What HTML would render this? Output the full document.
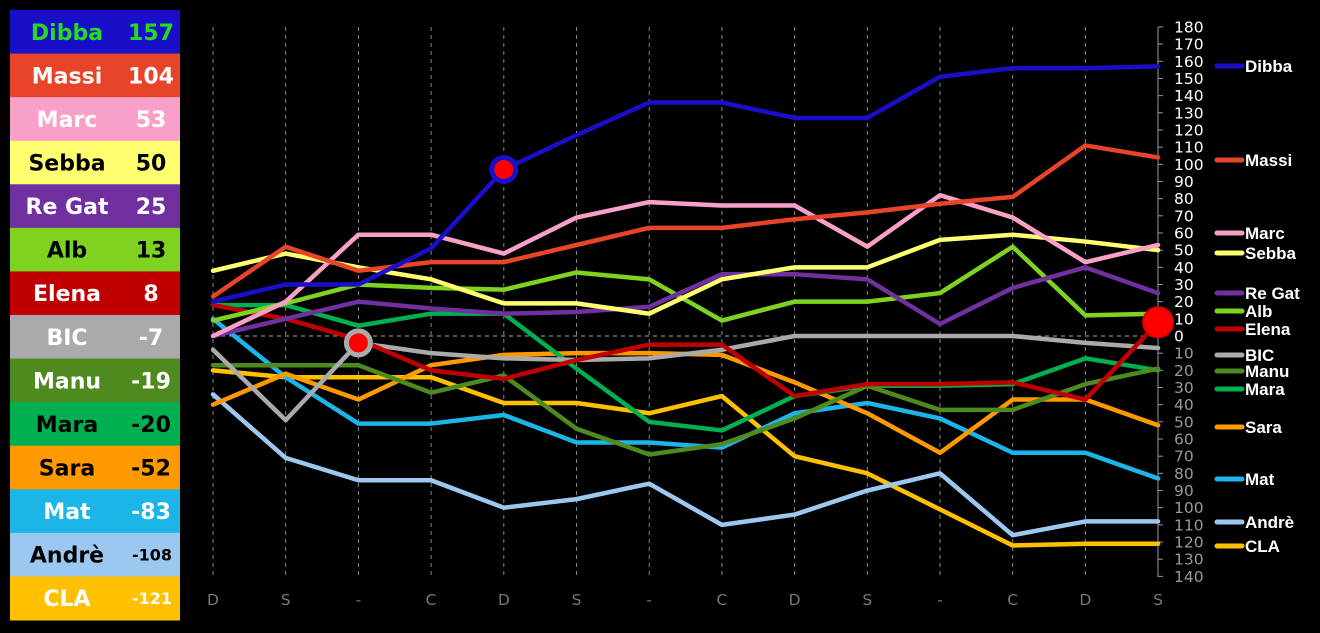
<!DOCTYPE html>
<html><head><meta charset="utf-8"><style>
body{margin:0;background:#000;width:1320px;height:633px;overflow:hidden}
svg{display:block}
.l{font-family:"DejaVu Sans",sans-serif;font-weight:bold;font-size:22px}
.ax{font-family:"DejaVu Sans",sans-serif;font-size:15.5px}
.lg{font-family:"Liberation Sans",sans-serif;font-weight:bold;font-size:17px;fill:#fff}
</style></head><body>
<svg width="1320" height="633" xmlns="http://www.w3.org/2000/svg" id="s">
<rect width="1320" height="633" fill="#000"/>
<g id="panel"></g>
<g id="grid"></g>
<g id="series" fill="none" stroke-width="4.5" stroke-linejoin="round" stroke-linecap="round"></g>
<g id="rleg"></g>
</svg>
<script>
const NS="http://www.w3.org/2000/svg";
function el(t,a,p,txt){const e=document.createElementNS(NS,t);for(const k in a)e.setAttribute(k,a[k]);if(txt!==undefined)e.textContent=txt;document.getElementById(p).appendChild(e);return e;}
const X=i=>213+i*72.7, Y=v=>336-v*1.717;
const rows=[["Dibba","157","#1a0fc8","#22dd22"],["Massi","104","#e8442a","#fff"],["Marc","53","#f9a0c8","#fff"],["Sebba","50","#ffff70","#000"],["Re Gat","25","#7030a0","#fff"],["Alb","13","#7ed321","#000"],["Elena","8","#c00000","#fff"],["BIC","-7","#aaaaaa","#fff"],["Manu","-19","#4e8a1e","#fff"],["Mara","-20","#00b050","#000"],["Sara","-52","#ff9900","#000"],["Mat","-83","#1cb5e8","#fff"],["Andrè","-108","#9cc8f0","#000"],["CLA","-121","#ffc000","#fff"]];
const rh=610/14;
rows.forEach((r,i)=>{const y=10+i*rh;el("rect",{x:10,y:y,width:170,height:rh+0.5,fill:r[2]},"panel");
el("text",{x:67,y:y+rh/2+8,"text-anchor":"middle",class:"l",fill:r[3]},"panel",r[0]);
const big=r[1].length>3;
el("text",{x:big?152:151,y:y+rh/2+(big?6:8),"text-anchor":"middle",class:"l",fill:r[3],style:big?"font-size:16px":""},"panel",r[1]);});
const lab=["D","S","-","C","D","S","-","C","D","S","-","C","D","S"];
for(let i=0;i<14;i++){if(i<13)el("line",{x1:X(i),y1:27,x2:X(i),y2:577,stroke:"#888","stroke-dasharray":"4,4","stroke-width":1},"grid");
el("text",{x:X(i),y:605,"text-anchor":"middle",class:"ax",fill:"#777"},"grid",lab[i]);}
el("line",{x1:213,y1:336,x2:1158,y2:336,stroke:"#aaa","stroke-dasharray":"4,4","stroke-width":1},"grid");
el("line",{x1:1158,y1:27,x2:1158,y2:577,stroke:"#999","stroke-width":1},"grid");
for(let v=180;v>=-140;v-=10){const y=Y(v);el("line",{x1:1158,y1:y,x2:1163,y2:y,stroke:"#999"},"grid");
el("text",{x:1174,y:y+5.5,class:"ax",fill:v>=0?"#fff":"#999"},"grid",String(Math.abs(v)));}
const S=[
["CLA","#ffc000",[-20,-24,-24,-24,-39,-39,-45,-35,-70,-80,-101,-122,-121,-121],546],
["Andrè","#9cc8f0",[-34,-71,-84,-84,-100,-95,-86,-110,-104,-90,-80,-116,-108,-108],522],
["Mat","#1cb5e8",[10,-24,-51,-51,-46,-62,-62,-65,-45,-39,-48,-68,-68,-83],479],
["Sara","#ff9900",[-40,-22,-37,-17,-11,-10,-10,-11,-27,-45,-68,-37,-37,-52],427],
["Mara","#00b050",[18,18,6,13,13,-19,-50,-55,-35,-29,-29,-28,-13,-20],389],
["Manu","#4e8a1e",[-17,-17,-17,-33,-23,-54,-69,-63,-48,-29,-43,-43,-28,-19],371],
["BIC","#aaaaaa",[-8,-49,-4,-10,-13,-14,-13,-8,0,0,0,0,-4,-7],355],
["Elena","#c00000",[18,10,-2,-20,-25,-14,-5,-5,-35,-28,-28,-27,-37,8],329],
["Alb","#7ed321",[9,19,30,28,27,37,33,9,20,20,25,52,12,13],311],
["Re Gat","#7030a0",[0,10,20,16,13,14,17,36,36,33,7,28,40,25],293],
["Sebba","#ffff70",[38,48,40,33,19,19,13,33,40,40,56,59,55,50],253],
["Marc","#f9a0c8",[0,20,59,59,48,69,78,76,76,52,82,69,43,53],233],
["Massi","#e8442a",[23,52,38,43,43,53,63,63,68,72,77,81,111,104],160],
["Dibba","#1a0fc8",[20,30,30,51,97,117,136,136,127,127,151,156,156,157],66]];
S.forEach(s=>{el("polyline",{points:s[2].map((v,i)=>X(i)+","+Y(v)).join(" "),stroke:s[1]},"series");
el("line",{x1:1217,y1:s[3],x2:1242,y2:s[3],stroke:s[1],"stroke-width":5,"stroke-linecap":"round"},"rleg");
el("text",{x:1245,y:s[3]+6,class:"lg"},"rleg",s[0]);});
el("circle",{cx:X(4),cy:Y(97),r:12,fill:"#f00",stroke:"#1a0fc8","stroke-width":5},"series");
el("circle",{cx:X(2),cy:Y(-4),r:12,fill:"#f00",stroke:"#aaa","stroke-width":5},"series");
el("circle",{cx:X(13),cy:Y(8),r:15,fill:"#f00",stroke:"#d00","stroke-width":2},"series");
</script>
</body></html>
